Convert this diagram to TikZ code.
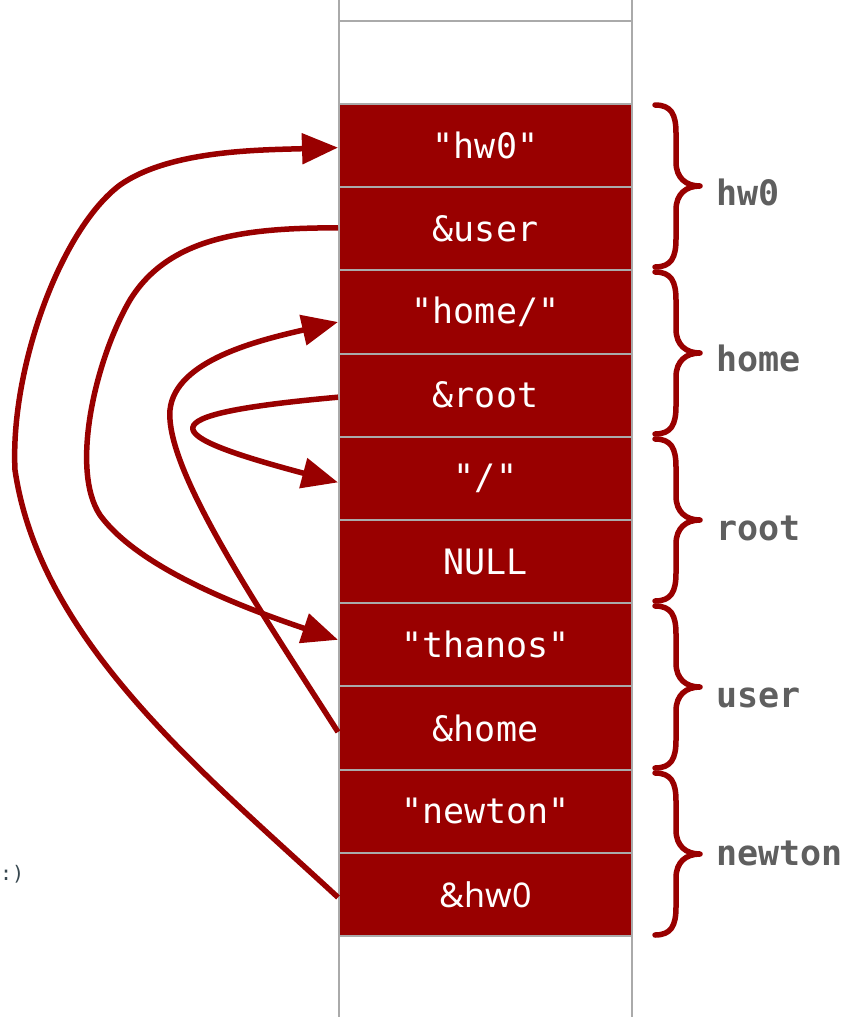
\documentclass[tikz,border=0pt]{standalone}
\usepackage{fontspec}
\setmainfont{DejaVu Sans}
\newfontfamily\monofont{DejaVu Sans Mono}
\newfontfamily\propfont{Noto Sans}
\usetikzlibrary{arrows.meta,calc}
\definecolor{cellred}{HTML}{990000}
\definecolor{gridgrey}{HTML}{AAAAAA}
\definecolor{labelgrey}{HTML}{5F5F5F}
\definecolor{smilegrey}{HTML}{37474F}
\newcommand\grpbrace[2]{%
  \draw[grp] (655,#1) .. controls (671,#1) and (676,#1+9) .. (676,#1+28)
    -- (676,{(#1+#2)/2-24}) .. controls (676,{(#1+#2)/2-8}) and (686,{(#1+#2)/2}) .. (700,{(#1+#2)/2})
    .. controls (686,{(#1+#2)/2}) and (676,{(#1+#2)/2+8}) .. (676,{(#1+#2)/2+24})
    -- (676,#2-28) .. controls (676,#2-9) and (671,#2) .. (655,#2);}
\begin{document}
\begin{tikzpicture}[x=1pt,y=-1pt,
  cell/.style={draw=gridgrey, line width=2pt, fill=cellred, text=white,
    minimum width=293pt, minimum height=83.2pt, inner sep=0pt,
    font=\monofont\fontsize{35}{40}\selectfont},
  blank/.style={draw=gridgrey, line width=2pt, fill=white,
    minimum width=293pt, inner sep=0pt},
  ptr/.style={draw=cellred, line width=5.5pt, -{Triangle[length=36pt,width=30pt]}},
  grp/.style={draw=cellred, line width=5.5pt, line cap=round, line join=round},
  lbl/.style={anchor=base west, text=labelgrey, inner sep=0pt,
    font=\monofont\bfseries\fontsize{35}{40}\selectfont}]
\useasboundingbox (0,0) rectangle (855,1017);
\fill[white] (0,0) rectangle (855,1017);

% empty memory cells
\node[blank, minimum height=41pt] (t0) at (485.5,0.5) {};
\node[blank, minimum height=83pt] (t1) at (485.5,62.5) {};
\node[blank, minimum height=104pt] (b1) at (485.5,988) {};

% filled memory cells
\node[cell] (r1) at (485.5,145.6) {"hw0"};
\node[cell] (r2) at (485.5,228.8) {\&user};
\node[cell] (r3) at (485.5,312.0) {"home/"};
\node[cell] (r4) at (485.5,395.2) {\&root};
\node[cell] (r5) at (485.5,478.4) {"/"};
\node[cell] (r6) at (485.5,561.6) {NULL};
\node[cell] (r7) at (485.5,644.8) {"thanos"};
\node[cell] (r8) at (485.5,728.0) {\&home};
\node[cell] (r9) at (485.5,811.2) {"newton"};
\node[cell, font=\propfont\fontsize{34}{40}\selectfont] (r10) at (485.5,894.4) {\&hw0};

% pointers
\draw[ptr] ($(r10.west)+(0,3)$) .. controls (200,770) and (40,640) .. (15,470)
  .. controls (10,370) and (60,230) .. (120,185)
  .. controls (170,150) and (260,150) .. ($(r1.west)+(0,2)$);
\draw[ptr] ($(r2.west)+(0,-1)$) .. controls (250,228) and (170,235) .. (130,300)
  .. controls (95,360) and (70,470) .. (100,515)
  .. controls (140,570) and (250,610) .. ($(r7.west)+(0,-5)$);
\draw[ptr] ($(r8.west)+(0,4)$) .. controls (260,610) and (165,470) .. (170,410)
  .. controls (175,360) and (260,340) .. ($(r3.west)+(0,10)$);
\draw[ptr] ($(r4.west)+(0,2)$) .. controls (140,415) and (160,435) .. ($(r5.west)+(0,4)$);

% groups
\grpbrace{105}{267}
\grpbrace{272}{434}
\grpbrace{439}{601}
\grpbrace{606}{768}
\grpbrace{773}{935}
\node[lbl] (lhw0) at (716,205) {hw0};
\node[lbl] (lhome) at (716,371) {home};
\node[lbl] (lroot) at (716,540) {root};
\node[lbl] (luser) at (716,707) {user};
\node[lbl] (lnewton) at (716,865) {newton};

% remnant at the left edge
\node[anchor=west, inner sep=0pt, text=smilegrey,
  font=\monofont\fontsize{20}{22}\selectfont] (smile) at (0,874) {:)};
\end{tikzpicture}
\end{document}
